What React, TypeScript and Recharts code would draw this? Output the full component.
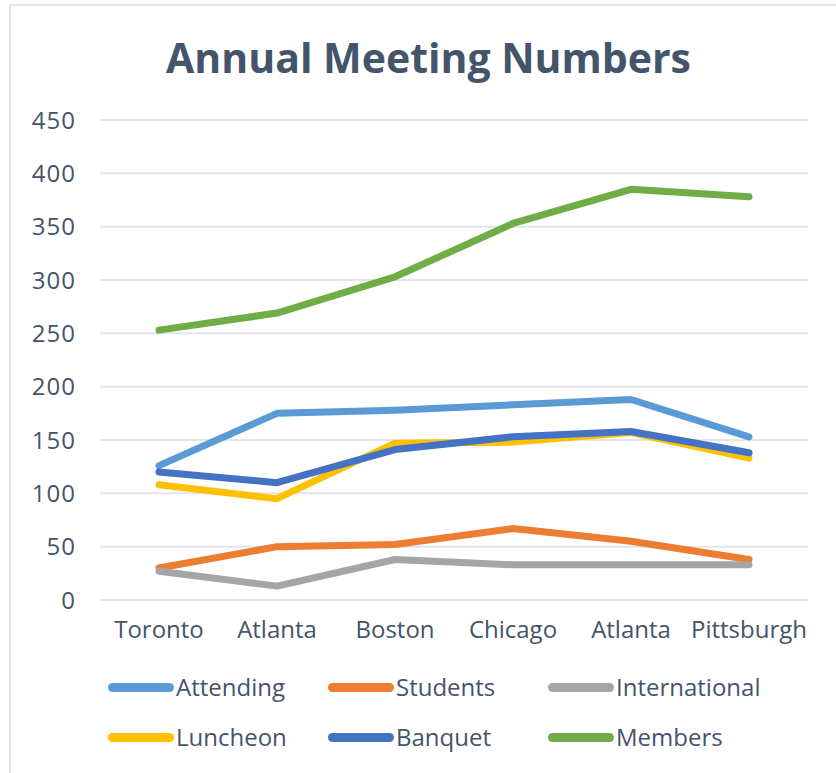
import { CartesianGrid, Line, LineChart, XAxis, YAxis } from "recharts";

const categories = ["Toronto", "Atlanta", "Boston", "Chicago", "Atlanta", "Pittsburgh"];
const attending = [126, 175, 178, 183, 188, 153];
const students = [30, 50, 52, 67, 55, 38];
const international = [27, 13, 38, 33, 33, 33];
const luncheon = [108, 95, 147, 148, 157, 133];
const banquet = [120, 110, 141, 153, 158, 138];
const members = [253, 269, 303, 353, 385, 378];
const yTicks = [0, 50, 100, 150, 200, 250, 300, 350, 400, 450];

const series = [
  { key: "attending", name: "Attending", color: "#5B9BD5", values: attending },
  { key: "students", name: "Students", color: "#ED7D31", values: students },
  { key: "international", name: "International", color: "#A5A5A5", values: international },
  { key: "luncheon", name: "Luncheon", color: "#FFC000", values: luncheon },
  { key: "banquet", name: "Banquet", color: "#4472C4", values: banquet },
  { key: "members", name: "Members", color: "#70AD47", values: members }
];

const TEXT = "#44546A";
const GRID = "#E1E5EC";
const FONT = "'Open Sans', sans-serif";

// one row per city, x is the position index so ticks can sit between categories
const data = categories.map((city, i) => {
  const row: Record<string, number | string> = { i, city };
  series.forEach((s) => {
    row[s.key] = s.values[i];
  });
  return row;
});

const boundaryTicks = [-0.5, 0.5, 1.5, 2.5, 3.5, 4.5, 5.5];
const centerTicks = categories.map((_, i) => i);

export default function App() {
  return (
    <div
      style={{
        position: "absolute",
        left: 0,
        top: 0,
        width: 836,
        height: 773,
        background: "#fff",
        fontFamily: FONT,
        overflow: "hidden"
      }}
    >
      <div
        style={{
          position: "absolute",
          left: 9,
          top: 4,
          right: -4,
          bottom: -4,
          borderTop: `2px solid ${GRID}`,
          borderLeft: `2px solid ${GRID}`
        }}
      />
      <div
        style={{
          position: "absolute",
          left: 0,
          top: 37,
          width: 857,
          textAlign: "center",
          fontSize: 41,
          lineHeight: 1,
          fontWeight: 700,
          color: TEXT
        }}
      >
        Annual Meeting Numbers
      </div>
      <div style={{ position: "absolute", left: 0, top: 0 }}>
        <LineChart width={836} height={660} data={data} margin={{ top: 120, right: 28, left: 0, bottom: 0 }}>
          <CartesianGrid vertical={false} stroke={GRID} strokeWidth={2} />
          <XAxis
            xAxisId={0}
            dataKey="i"
            type="number"
            domain={[-0.5, 5.5]}
            ticks={boundaryTicks}
            tickFormatter={() => ""}
            height={0}
            tickSize={8}
            stroke={GRID}
            axisLine={{ stroke: GRID, strokeWidth: 2 }}
            tickLine={{ stroke: GRID, strokeWidth: 2 }}
          />
          <XAxis
            xAxisId="labels"
            dataKey="i"
            type="number"
            domain={[-0.5, 5.5]}
            ticks={centerTicks}
            tickFormatter={(v: number) => categories[v] ?? ""}
            height={60}
            tickSize={0}
            tickMargin={21}
            axisLine={false}
            tickLine={false}
            interval={0}
            tick={{ fill: TEXT, fontSize: 24, fontFamily: FONT }}
          />
          <YAxis
            type="number"
            domain={[0, 450]}
            ticks={yTicks}
            width={100}
            tickSize={0}
            tickMargin={24}
            axisLine={false}
            tickLine={false}
            interval={0}
            tick={{ fill: TEXT, fontSize: 24, fontFamily: FONT, letterSpacing: 1 }}
          />
          {series.map((s) => (
            <Line
              key={s.key}
              type="linear"
              dataKey={s.key}
              name={s.name}
              stroke={s.color}
              strokeWidth={7}
              strokeLinecap="round"
              strokeLinejoin="round"
              dot={false}
              activeDot={false}
              isAnimationActive={false}
            />
          ))}
        </LineChart>
      </div>
      {[0, 1].map((row) => (
        <div
          key={row}
          style={{ position: "absolute", left: 108, top: 672 + row * 50, display: "flex" }}
        >
          {series.slice(row * 3, row * 3 + 3).map((s) => (
            <div key={s.key} style={{ width: 220, display: "flex", alignItems: "center", height: 30 }}>
              <span
                style={{
                  display: "inline-block",
                  width: 66,
                  height: 9,
                  borderRadius: 5,
                  background: s.color,
                  marginRight: 2
                }}
              />
              <span style={{ fontSize: 24, color: TEXT, lineHeight: "30px" }}>{s.name}</span>
            </div>
          ))}
        </div>
      ))}
    </div>
  );
}
